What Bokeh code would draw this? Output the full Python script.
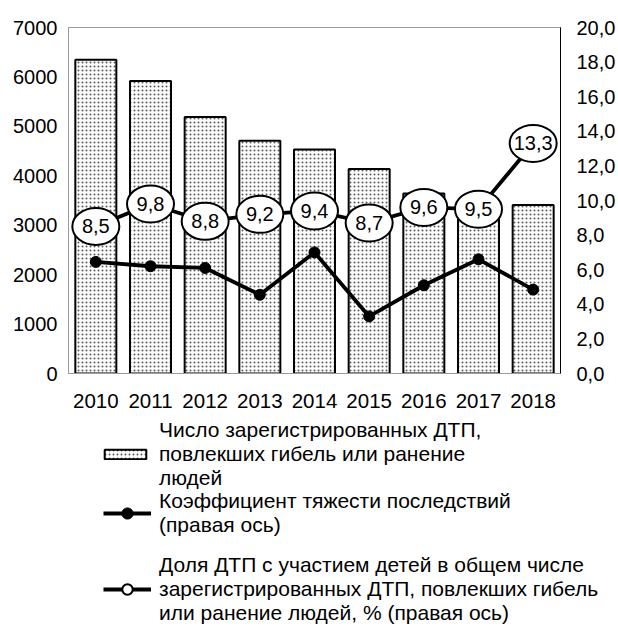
from bokeh.plotting import figure
from bokeh.layouts import column, row
from bokeh.models import (Range1d, LinearAxis, FixedTicker, CustomJSTickFormatter,
                          ColumnDataSource, Legend, LegendItem, FactorRange)
from bokeh.embed import file_html
from bokeh.resources import INLINE
from bokeh.core.properties import value

# ---- data ----
years = ["2010", "2011", "2012", "2013", "2014", "2015", "2016", "2017", "2018"]
accidents = [6350, 5920, 5190, 4710, 4530, 4135, 3640, 3460, 3410]
severity = [6.45, 6.2, 6.1, 4.55, 7.0, 3.3, 5.1, 6.6, 4.85]
children_share = [8.5, 9.8, 8.8, 9.2, 9.4, 8.7, 9.6, 9.5, 13.3]
left_ticks = [0, 1000, 2000, 3000, 4000, 5000, 6000, 7000]
right_ticks = [0, 2, 4, 6, 8, 10, 12, 14, 16, 18, 20]

label_bars = "Число зарегистрированных ДТП,\nповлекших гибель или ранение\nлюдей"
label_sev = "Коэффициент тяжести последствий\n(правая ось)"
label_child = "Доля ДТП с участием детей в общем числе\nзарегистрированных ДТП, повлекших гибель\nили ранение людей, % (правая ось)"

share_labels = [f"{v:.1f}".replace(".", ",") for v in children_share]

src = ColumnDataSource(dict(year=years, accidents=accidents, severity=severity,
                            share=children_share, share_label=share_labels))

FONT = "Liberation Sans"

# styles
BAR = dict(fill_color="white", line_color="black", line_width=2,
           hatch_pattern="dot", hatch_color="black", hatch_scale=4,
           hatch_weight=1, hatch_alpha=0.65)
LINE = dict(line_color="black", line_width=3.8)
DOT_BLACK = dict(size=11, fill_color="black", line_color="black")
DOT_WHITE = dict(size=10, fill_color="white", line_color="black", line_width=2)

p = figure(x_range=FactorRange(*years, range_padding=0), y_range=Range1d(0, 7000),
           width=618, height=418, output_backend="svg", toolbar_location=None,
           min_border_left=68, min_border_right=57, min_border_top=27, min_border_bottom=45,
           background_fill_color="white", border_fill_color="white")
p.extra_y_ranges = {"right": Range1d(0, 20)}

p.xgrid.grid_line_color = None
p.ygrid.grid_line_color = None
p.outline_line_color = "#9a9a9a"
p.outline_line_width = 1

# left axis
p.yaxis.ticker = FixedTicker(ticks=left_ticks)
p.yaxis.axis_line_color = "#9a9a9a"
p.yaxis.major_tick_line_color = None
p.yaxis.minor_tick_line_color = None
p.yaxis.major_tick_out = 0
p.yaxis.major_tick_in = 0
p.yaxis.minor_tick_out = 0
p.yaxis.major_label_standoff = 11
p.yaxis.major_label_text_font = FONT
p.yaxis.major_label_text_font_size = "20px"
p.yaxis.major_label_text_color = "black"

# x axis
p.xaxis.axis_line_color = "#9a9a9a"
p.xaxis.major_tick_line_color = None
p.xaxis.minor_tick_line_color = None
p.xaxis.major_tick_out = 0
p.xaxis.major_tick_in = 0
p.xaxis.major_label_standoff = 20
p.xaxis.major_label_text_font = FONT
p.xaxis.major_label_text_font_size = "20.5px"
p.xaxis.major_label_text_color = "black"

# right axis
ra = LinearAxis(y_range_name="right", ticker=FixedTicker(ticks=right_ticks),
                formatter=CustomJSTickFormatter(code="return tick.toFixed(1).replace('.', ',')"))
ra.axis_line_color = "black"
ra.major_tick_line_color = None
ra.minor_tick_line_color = None
ra.major_tick_out = 0
ra.major_tick_in = 0
ra.minor_tick_out = 0
ra.major_label_standoff = 16
ra.major_label_text_font = FONT
ra.major_label_text_font_size = "20px"
ra.major_label_text_color = "black"
p.add_layout(ra, "right")

# bars
bars = p.vbar(x="year", top="accidents", width=0.75, source=src, **BAR)

# severity line
sev_line = p.line(x="year", y="severity", source=src, y_range_name="right", **LINE)
sev_dots = p.scatter(x="year", y="severity", source=src, y_range_name="right", **DOT_BLACK)

# children share line with ellipse labels
ch_line = p.line(x="year", y="share", source=src, y_range_name="right", **LINE)
ch_dots = p.scatter(x="year", y="share", source=src, y_range_name="right", **DOT_WHITE)
p.ellipse(x="year", y="share", source=src, y_range_name="right",
          width=47, height=37, width_units="screen", height_units="screen",
          fill_color="white", line_color="black", line_width=2)
p.text(x="year", y="share", text="share_label", source=src, y_range_name="right",
       text_align="center", text_baseline="middle", text_font=value(FONT),
       text_font_size="20px", text_color="black")

# ---- legend panel (separate figure below the chart) ----
lp = figure(x_range=FactorRange(*years), y_range=Range1d(0, 1),
            width=618, height=208, output_backend="svg", toolbar_location=None,
            min_border_left=0, min_border_right=0, min_border_top=0, min_border_bottom=0,
            background_fill_color="white", border_fill_color="white")
lp.axis.visible = False
lp.grid.visible = False
lp.outline_line_color = None

lg_bars = lp.vbar(x="year", top="accidents", width=0.75, source=src, visible=False, **BAR)
lg_sev_l = lp.line(x="year", y="severity", source=src, visible=False, **LINE)
lg_sev_d = lp.scatter(x="year", y="severity", source=src, visible=False, **DOT_BLACK)
lg_ch_l = lp.line(x="year", y="share", source=src, visible=False, **LINE)
lg_ch_d = lp.scatter(x="year", y="share", source=src, visible=False, **DOT_WHITE)

def make_legend(item, loc, gw, gh, standoff, lh):
    lg = Legend(items=[item], location=loc, glyph_width=gw, glyph_height=gh,
                label_standoff=standoff, label_text_font=FONT,
                label_text_font_size="21px", label_text_color="black",
                label_text_line_height=lh,
                border_line_color=None, background_fill_alpha=0,
                padding=0, margin=0, spacing=0)
    lp.add_layout(lg, "center")
    return lg

make_legend(LegendItem(label=label_bars, renderers=[lg_bars]), (99, 136), 52, 12, 8, 1.07)
make_legend(LegendItem(label=label_sev, renderers=[lg_sev_l, lg_sev_d]), (103, 89), 48, 28, 8, 1.07)
make_legend(LegendItem(label=label_child, renderers=[lg_ch_l, lg_ch_d]), (103, 1), 48, 26, 8, 1.12)

layout = column(p, row(lp), spacing=0)
open("out.html", "w").write(file_html(layout, INLINE))
